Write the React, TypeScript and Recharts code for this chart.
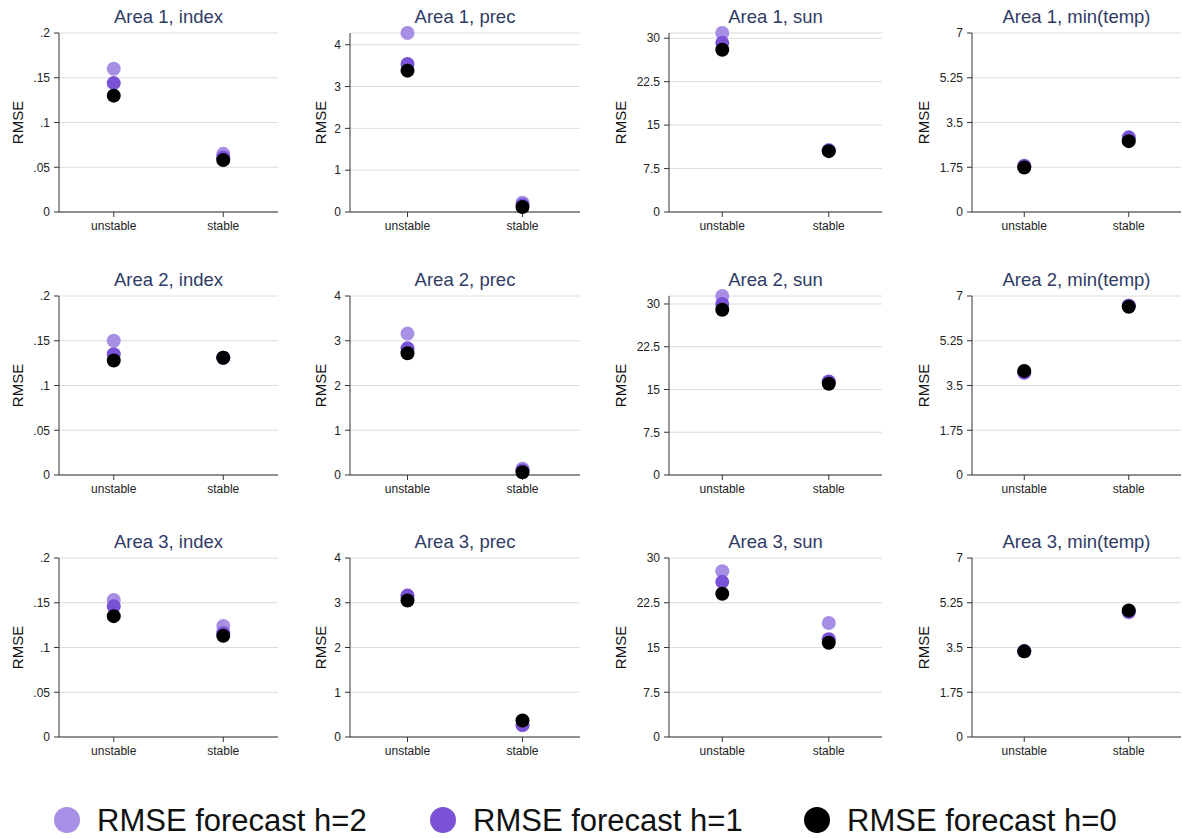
import { ScatterChart, Scatter, XAxis, YAxis, CartesianGrid } from 'recharts';

const categories = ['unstable', 'stable'];
const areas = ['Area 1', 'Area 2', 'Area 3'];
const variables = ['index', 'prec', 'sun', 'min(temp)'];
const seriesKeys = ['h2', 'h1', 'h0'];
const seriesNames = ['RMSE forecast h=2', 'RMSE forecast h=1', 'RMSE forecast h=0'];
const seriesColors = ['#a78fe6', '#7a52d6', '#000000'];

// y ticks per variable
const indexTicks = [0, 0.05, 0.1, 0.15, 0.2];
const precTicks = [0, 1, 2, 3, 4];
const sunTicks = [0, 7.5, 15, 22.5, 30];
const tempTicks = [0, 1.75, 3.5, 5.25, 7];
const variableTicks = [indexTicks, precTicks, sunTicks, tempTicks];

// values: [unstable, stable]
const area1Index = { h2: [0.16, 0.065], h1: [0.144, 0.061], h0: [0.13, 0.058] };
const area1Prec = { h2: [4.28, 0.22], h1: [3.54, 0.17], h0: [3.38, 0.12] };
const area1Sun = { h2: [30.9, 10.7], h1: [29.2, 10.6], h0: [28.0, 10.5] };
const area1Temp = { h2: [1.81, 2.93], h1: [1.8, 2.9], h0: [1.74, 2.77] };

const area2Index = { h2: [0.15, 0.131], h1: [0.135, 0.131], h0: [0.128, 0.131] };
const area2Prec = { h2: [3.16, 0.14], h1: [2.83, 0.1], h0: [2.72, 0.06] };
const area2Sun = { h2: [31.4, 16.3], h1: [30.0, 16.4], h0: [29.0, 16.0] };
const area2Temp = { h2: [4.03, 6.63], h1: [4.0, 6.62], h0: [4.07, 6.58] };

const area3Index = { h2: [0.153, 0.124], h1: [0.146, 0.116], h0: [0.135, 0.113] };
const area3Prec = { h2: [3.15, 0.26], h1: [3.16, 0.27], h0: [3.05, 0.37] };
const area3Sun = { h2: [27.8, 19.1], h1: [26.0, 16.4], h0: [24.0, 15.8] };
const area3Temp = { h2: [3.36, 4.88], h1: [3.35, 4.9], h0: [3.35, 4.95] };

const panels = [
  [area1Index, area1Prec, area1Sun, area1Temp],
  [area2Index, area2Prec, area2Sun, area2Temp],
  [area3Index, area3Prec, area3Sun, area3Temp],
];

// layout
const colLeft = [59, 350, 669, 972];
const colRight = [278, 580, 882, 1181];
const rowTop = [33, 296, 558];
const plotH = 179;
const yAxisW = 60;
const labelGap = [42, 30, 49, 49];
const FONT = '"Liberation Sans", Arial, Helvetica, sans-serif';

const fmt = (v) => (v > 0 && v < 1 ? String(v).replace(/^0/, '') : String(v));

const RmseLabel = ({ viewBox, gap }: any) => {
  const x = viewBox.x + viewBox.width - gap;
  const y = viewBox.y + viewBox.height / 2;
  return (
    <text
      x={x}
      y={y}
      transform={`rotate(-90, ${x}, ${y})`}
      textAnchor="middle"
      dominantBaseline="central"
      fontSize={15}
      fill="#111"
      fontFamily={FONT}
    >
      RMSE
    </text>
  );
};

const Dot = (color) => (props: any) => <circle cx={props.cx} cy={props.cy} r={7} fill={color} />;

const Panel = ({ row, col }) => {
  const values = panels[row][col];
  const ticks = variableTicks[col];
  const plotW = colRight[col] - colLeft[col];
  const w = plotW + yAxisW;
  const h = 33 + plotH + 32;
  return (
    <div style={{ position: 'absolute', left: colLeft[col] - yAxisW, top: rowTop[row] - 33 }}>
      <div
        style={{
          position: 'absolute',
          left: yAxisW,
          width: plotW,
          top: 6,
          textAlign: 'center',
          fontSize: 18.5,
          color: '#2f3b66',
          fontFamily: FONT,
          whiteSpace: 'nowrap',
        }}
      >
        {areas[row]}, {variables[col]}
      </div>
      <ScatterChart width={w} height={h} margin={{ top: 33, right: 0, bottom: 0, left: 0 }}>
        <CartesianGrid vertical={false} stroke="#dcdcdc" />
        <XAxis
          type="category"
          dataKey="cat"
          allowDuplicatedCategory={false}
          height={32}
          stroke="#333"
          tickSize={5}
          tickMargin={4}
          tick={{ fontSize: 12, fill: '#222', fontFamily: FONT }}
        />
        <YAxis
          type="number"
          dataKey="v"
          width={yAxisW}
          domain={[0, (max) => Math.max(ticks[ticks.length - 1], max)]}
          ticks={ticks}
          tickFormatter={fmt}
          stroke="#333"
          tickSize={5}
          tickMargin={4}
          tick={{ fontSize: 12, fill: '#222', fontFamily: FONT }}
          label={<RmseLabel gap={labelGap[col]} />}
        />
        {seriesKeys.map((k, i) => (
          <Scatter
            key={k}
            name={seriesNames[i]}
            data={categories.map((c, j) => ({ cat: c, v: values[k][j] }))}
            fill={seriesColors[i]}
            shape={Dot(seriesColors[i])}
            isAnimationActive={false}
          />
        ))}
      </ScatterChart>
    </div>
  );
};

const legendX = [67, 443, 817];

export default function App() {
  return (
    <div
      style={{
        position: 'absolute',
        left: 0,
        top: 0,
        width: 1182,
        height: 838,
        background: '#fff',
        overflow: 'hidden',
      }}
    >
      {panels.map((r, row) => r.map((_, col) => <Panel key={`${row}-${col}`} row={row} col={col} />))}
      <svg style={{ position: 'absolute', left: 0, top: 790 }} width={1182} height={48}>
        {seriesNames.map((name, i) => (
          <g key={name}>
            <circle cx={legendX[i]} cy={30} r={13} fill={seriesColors[i]} />
            <text
              x={legendX[i] + 30}
              y={30}
              dominantBaseline="central"
              fontSize={31}
              fill="#111"
              fontFamily={FONT}
            >
              {name}
            </text>
          </g>
        ))}
      </svg>
    </div>
  );
}
